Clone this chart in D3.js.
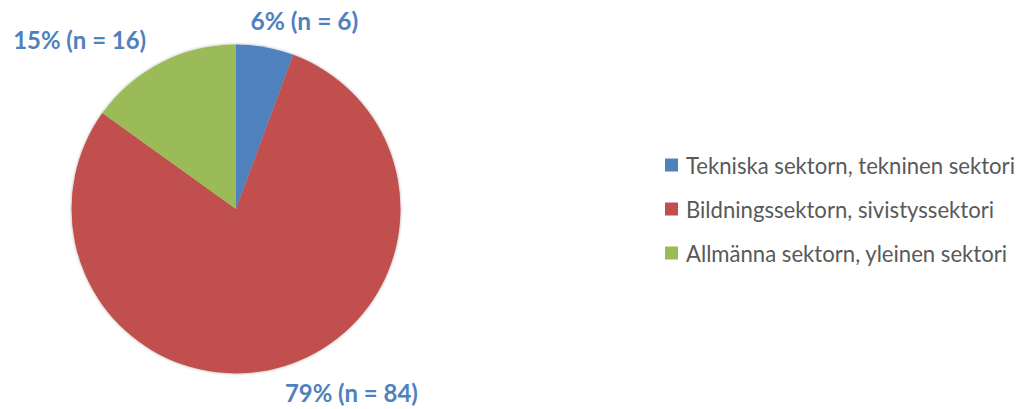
<!DOCTYPE html>
<html>
<head>
<meta charset="utf-8">
<script src="https://cdn.jsdelivr.net/npm/d3@7"></script>
<style>
  body { margin: 0; background: #fff; }
  #chart { width: 1026px; height: 409px; }
</style>
</head>
<body>
<div id="chart"></div>
<script>
const categories = ["Tekniska sektorn, tekninen sektori", "Bildningssektorn, sivistyssektori", "Allmänna sektorn, yleinen sektori"];
const counts = [6, 84, 16];
const percentLabels = ["6%", "79%", "15%"];

const colors = ["#4F81BD", "#C0504D", "#9BBB59"];
// manual label nudges (Excel-placed labels), relative to outer anchor
const labelNudge = [[33, 8], [57, -8], [-65, 8]];
const labelWidth = [108, 133, 133];

const width = 1026, height = 409;
const cx = 236, cy = 209, radius = 164.5;

const svg = d3.select("#chart")
    .append("svg")
    .attr("width", width)
    .attr("height", height);

const defs = svg.append("defs");
const filter = defs.append("filter")
    .attr("id", "shadow")
    .attr("x", "-10%").attr("y", "-10%")
    .attr("width", "120%").attr("height", "120%");
filter.append("feDropShadow")
    .attr("dx", 0).attr("dy", 0)
    .attr("stdDeviation", 1.5)
    .attr("flood-color", "#000")
    .attr("flood-opacity", 0.35);

const pie = d3.pie().sort(null).value(d => d);
const arcs = pie(counts);
const arc = d3.arc().innerRadius(0).outerRadius(radius);

const g = svg.append("g")
    .attr("transform", `translate(${cx},${cy})`);

g.append("g")
    .attr("filter", "url(#shadow)")
    .selectAll("path")
    .data(arcs)
    .enter()
    .append("path")
    .attr("d", arc)
    .attr("fill", (d, i) => colors[i]);

// data labels
const labelR = 200;
g.selectAll(".data-label")
    .data(arcs)
    .enter()
    .append("text")
    .attr("class", "data-label")
    .attr("x", (d, i) => labelR * Math.sin((d.startAngle + d.endAngle) / 2) + labelNudge[i][0])
    .attr("y", (d, i) => -labelR * Math.cos((d.startAngle + d.endAngle) / 2) + labelNudge[i][1])
    .attr("text-anchor", "middle")
    .attr("dominant-baseline", "central")
    .style("font-family", "Lato, 'Open Sans', sans-serif")
    .style("font-weight", "bold")
    .style("font-size", "22px")
    .style("fill", "#4F81BD")
    .text((d, i) => `${percentLabels[i]} (n = ${counts[i]})`)
    .each(function(d, i) {
        const w = this.getComputedTextLength();
        if (w > 0) d3.select(this).style("font-size", (22 * labelWidth[i] / w) + "px");
    });

// legend
const legend = svg.append("g")
    .attr("transform", "translate(665, 165)");

legend.selectAll("rect")
    .data(categories)
    .enter()
    .append("rect")
    .attr("x", 0)
    .attr("y", (d, i) => i * 44 - 6.5)
    .attr("width", 13)
    .attr("height", 13)
    .attr("fill", (d, i) => colors[i]);

legend.selectAll("text")
    .data(categories)
    .enter()
    .append("text")
    .attr("x", 21)
    .attr("y", (d, i) => i * 44)
    .attr("dominant-baseline", "central")
    .style("font-family", "Lato, 'Open Sans', sans-serif")
    .style("font-size", "20px")
    .style("fill", "#595959")
    .text(d => d)
    .each(function(d, i) {
        if (i === 0) {
            const w = this.getComputedTextLength();
            const s = 20 * 329 / w;
            legend.selectAll("text").style("font-size", s + "px");
        }
    });
</script>
</body>
</html>
